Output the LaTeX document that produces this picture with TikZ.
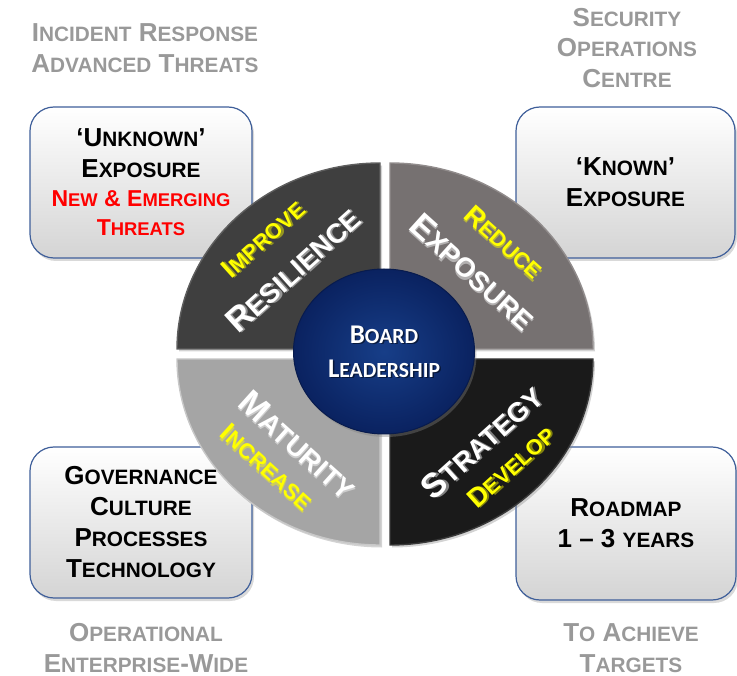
\documentclass[tikz,border=0pt]{standalone}
\usepackage{fontspec}
\setmainfont{Liberation Sans}
\newfontfamily\calib{Carlito}
\usetikzlibrary{shapes.geometric,shadows}
\makeatletter
\newcommand\smc[1]{{\fontsize{\strip@pt\dimexpr0.8\dimexpr\f@size pt\relax\relax}{\f@baselineskip}\selectfont #1}}
\makeatother
\definecolor{labgray}{HTML}{999999}
\definecolor{boxblue}{HTML}{3F5F9A}
\definecolor{boxbot}{HTML}{D4D4D4}
\definecolor{qtl}{HTML}{3F3F3F}
\definecolor{qtle}{HTML}{5E5E5E}
\definecolor{qtr}{HTML}{767171}
\definecolor{qtre}{HTML}{918C8C}
\definecolor{qbl}{HTML}{A5A5A5}
\definecolor{qble}{HTML}{C8C8C8}
\definecolor{qbr}{HTML}{1A1A1A}
\definecolor{qbre}{HTML}{3A3A3A}
\definecolor{navyin}{HTML}{173E88}
\definecolor{navyout}{HTML}{0A2260}
\definecolor{ylw}{HTML}{FFFF00}
\newcommand\segtext[5]{%
  \node[shd,#4,rotate=#3,xshift=1.6pt,yshift=-1.6pt] (#1-s) at (#2) {#5};
  \node[#4,rotate=#3] (#1) at (#2) {#5};}
\tikzset{
  lbl/.style={text=labgray, font=\bfseries\fontsize{26}{30.5}\selectfont, align=center, inner sep=0pt},
  box/.style={draw=boxblue, line width=1.2pt, rounded corners=24pt, top color=white,
    bottom color=boxbot, align=center, font=\bfseries\fontsize{26}{31}\selectfont,
    drop shadow={opacity=0.3, shadow xshift=2pt, shadow yshift=-3pt}},
  quad/.style={line width=1.4pt, drop shadow={opacity=0.35, shadow xshift=2pt, shadow yshift=-2.5pt}},
  wtxt/.style={text=white, font=\bfseries\fontsize{34}{40}\selectfont, inner sep=0pt},
  ytxt/.style={text=ylw, font=\bfseries\fontsize{27}{32}\selectfont, inner sep=0pt},
  shd/.style={text=black, opacity=0.45}
}
\begin{document}
\begin{tikzpicture}[x=1pt,y=-1pt]
\useasboundingbox (0,0) rectangle (737,676);
% corner labels
\node[lbl] (ltl) at (145,48) {I\smc{NCIDENT} R\smc{ESPONSE}\\A\smc{DVANCED} T\smc{HREATS}};
\node[lbl] (ltr) at (627,48) {S\smc{ECURITY}\\O\smc{PERATIONS}\\C\smc{ENTRE}};
\node[lbl] (lbl) at (146,648) {O\smc{PERATIONAL}\\E\smc{NTERPRISE}-W\smc{IDE}};
\node[lbl] (lbr) at (631,648) {T\smc{O} A\smc{CHIEVE}\\T\smc{ARGETS}};
% boxes
\node[box, minimum width=222pt, minimum height=151pt] (btl) at (141,182.5)
  {‘U\smc{NKNOWN}’\\E\smc{XPOSURE}\\[-2pt]
   {\color{red}\fontsize{23}{28}\selectfont N\smc{EW} \& E\smc{MERGING}}\\[-2pt]
   {\color{red}\fontsize{23}{28}\selectfont T\smc{HREATS}}};
\node[box, minimum width=219pt, minimum height=151pt] (btr) at (625.5,182.5)
  {‘K\smc{NOWN}’\\E\smc{XPOSURE}};
\node[box, minimum width=222pt, minimum height=151pt] (bbl) at (141,522.5)
  {G\smc{OVERNANCE}\\C\smc{ULTURE}\\P\smc{ROCESSES}\\T\smc{ECHNOLOGY}};
\node[box, minimum width=220pt, minimum height=153pt] (bbr) at (626,523.5)
  {R\smc{OADMAP}\\1 – 3 \smc{YEARS}};
% quadrants
\fill[quad, qtl, draw=qtle] (380,349) -- (177,349) arc[start angle=180, end angle=270, x radius=203, y radius=186] -- cycle;
\fill[quad, qtr, draw=qtre] (390,349) -- (390,163) arc[start angle=270, end angle=360, x radius=203, y radius=186] -- cycle;
\fill[quad, qbr, draw=qbre] (390,359) -- (593,359) arc[start angle=0, end angle=90, x radius=203, y radius=186] -- cycle;
\fill[quad, qbl, draw=qble] (380,359) -- (380,545) arc[start angle=90, end angle=180, x radius=203, y radius=186] -- cycle;
% centre
\node[ellipse, minimum width=181pt, minimum height=165pt, inner color=navyin, outer color=navyout,
  draw=navyout!80!black, line width=1pt,
  drop shadow={opacity=0.4, shadow xshift=2pt, shadow yshift=-3pt}] (board) at (384,351.5) {};
\node[text=black, opacity=0.5, align=center, font=\calib\bfseries\fontsize{27}{34}\selectfont] (board-s) at (385.5,353) {B\smc{OARD}\\L\smc{EADERSHIP}};
\node[text=white, align=center, font=\calib\bfseries\fontsize{27}{34}\selectfont] (boardtxt) at (board.center) {B\smc{OARD}\\L\smc{EADERSHIP}};
% segment texts
\segtext{improve}{263,239}{42}{ytxt}{I\smc{MPROVE}}
\segtext{resil}{293,270}{42}{wtxt}{R\smc{ESILIENCE}}
\segtext{reduce}{504,242}{-42}{ytxt}{R\smc{EDUCE}}
\segtext{expos}{473,272}{-42}{wtxt}{E\smc{XPOSURE}}
\segtext{matur}{298,445}{-42}{wtxt}{M\smc{ATURITY}}
\segtext{incr}{267,467}{-42}{ytxt}{I\smc{NCREASE}}
\segtext{strat}{482,442}{42}{wtxt}{S\smc{TRATEGY}}
\segtext{devel}{511,467}{42}{ytxt}{D\smc{EVELOP}}
\end{tikzpicture}
\end{document}
